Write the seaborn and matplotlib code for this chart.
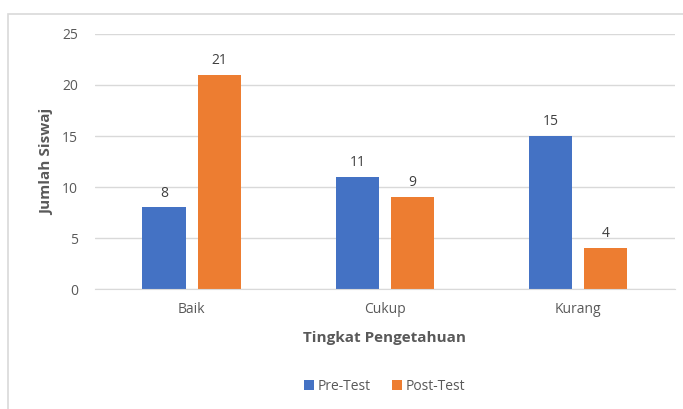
import pandas as pd
import seaborn as sns
import matplotlib.pyplot as plt
from matplotlib.patches import Rectangle

# data
kategori = ["Baik", "Cukup", "Kurang"]
pre_test = [8, 11, 15]
post_test = [21, 9, 4]
seri = ["Pre-Test", "Post-Test"]

df = pd.DataFrame({
    "Tingkat Pengetahuan": kategori * 2,
    "Jumlah Siswaj": pre_test + post_test,
    "Tes": [seri[0]] * 3 + [seri[1]] * 3,
})

sns.set_style("white")
plt.rcParams['font.family'] = ['Open Sans', 'DejaVu Sans']
teks = "#595959"

fig = plt.figure(figsize=(6.83, 4.09), dpi=100)
ax = fig.add_axes([0.139, 0.293, 0.849, 0.624])

sns.barplot(data=df, x="Tingkat Pengetahuan", y="Jumlah Siswaj", hue="Tes",
            palette=["#4472C4", "#ED7D31"], width=0.57, gap=0.218,
            saturation=1, linewidth=0, ax=ax, legend=True)

for c in ax.containers:
    ax.bar_label(c, padding=5, fontsize=10, color="#404040")

ax.set_ylim(0, 25)
ax.set_yticks([0, 5, 10, 15, 20, 25])
ax.set_xlim(-0.5, 2.5)
ax.grid(axis="y", color="#d9d9d9", linewidth=1)
ax.set_axisbelow(True)
for s in ["top", "right", "left"]:
    ax.spines[s].set_visible(False)
ax.spines["bottom"].set_color("#d9d9d9")
ax.tick_params(axis="both", length=0, labelsize=10, labelcolor=teks)
ax.tick_params(axis="y", pad=12)
ax.tick_params(axis="x", pad=9)

ax.set_xlabel("Tingkat Pengetahuan", fontsize=11, fontweight="bold", color=teks, labelpad=10)
ax.set_ylabel("Jumlah Siswaj", fontsize=11, fontweight="bold", color=teks, labelpad=6)

ax.legend(loc="center", bbox_to_anchor=(0.5, -0.38), ncol=2, frameon=False,
          fontsize=10, labelcolor=teks, handlelength=0.7, handleheight=0.7,
          handletextpad=0.3, columnspacing=1.5)

# chart border like the spreadsheet frame
fig.patches.append(Rectangle((8 / 683, -0.1), 1.1, 1.1 - 14 / 409,
                             transform=fig.transFigure, fill=False,
                             edgecolor="#d9d9d9", linewidth=1.2))

plt.savefig("out.png", dpi=100)
